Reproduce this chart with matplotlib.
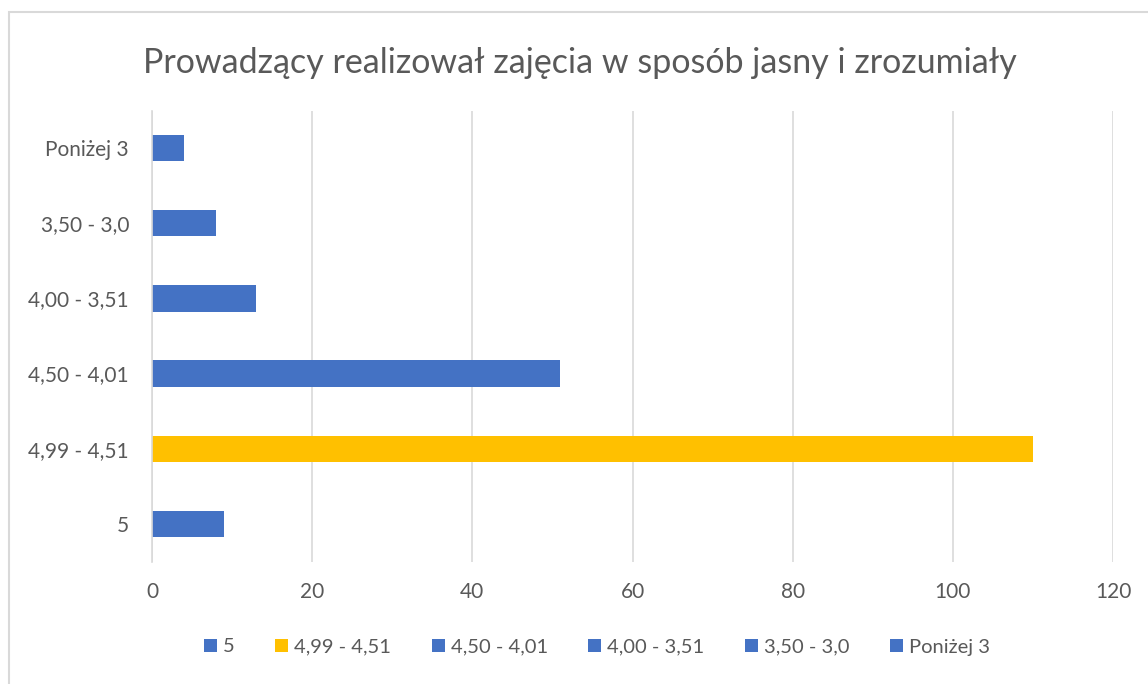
import matplotlib.pyplot as plt
from matplotlib.patches import Patch, Rectangle

plt.rcParams["font.family"] = ["Lato", "DejaVu Sans"]

categories = ["5", "4,99 - 4,51", "4,50 - 4,01", "4,00 - 3,51", "3,50 - 3,0", "Poniżej 3"]
counts = [9, 110, 51, 13, 8, 4]
colors = ["#4472C4", "#FFC000", "#4472C4", "#4472C4", "#4472C4", "#4472C4"]
x_ticks = [0, 20, 40, 60, 80, 100, 120]

text_color = "#595959"
grid_color = "#D9D9D9"

fig = plt.figure(figsize=(11.48, 6.84), dpi=100)
fig.patches.append(Rectangle((9 / 1148, -0.1), 1.2, 1 - 12 / 684 + 0.1,
                             transform=fig.transFigure, fill=False,
                             edgecolor=grid_color, linewidth=1.5))

ax = fig.add_axes([152 / 1148, 1 - 561.5 / 684, (1113 - 152) / 1148, 451 / 684])
ypos = list(range(len(categories)))
ax.barh(ypos, counts, height=0.35, color=colors, zorder=3)

ax.set_xlim(0, 120)
ax.set_ylim(-0.5, len(categories) - 0.5)
ax.set_xticks(x_ticks)
ax.set_yticks(ypos)
ax.set_yticklabels(categories)
ax.tick_params(axis="both", length=0, labelsize=15, labelcolor=text_color)
ax.tick_params(axis="x", pad=15)
ax.tick_params(axis="y", pad=16.5)
ax.grid(axis="x", color=grid_color, linewidth=1.2, zorder=0)
for side in ["top", "right", "bottom"]:
    ax.spines[side].set_visible(False)
ax.spines["left"].set_color(grid_color)
ax.spines["left"].set_linewidth(1.2)
ax.spines["left"].set_zorder(4)

fig.text(0.505, 1 - 63 / 684, "Prowadzący realizował zajęcia w sposób jasny i zrozumiały",
         ha="center", va="center", fontsize=24.5, color=text_color)

handles = [Patch(facecolor=c, edgecolor="none") for c in colors]
fig.legend(handles, categories, loc="center", bbox_to_anchor=(0.52, 1 - 647 / 684),
           ncol=len(categories), frameon=False, fontsize=14.5, labelcolor=text_color,
           handlelength=0.65, handleheight=0.65, handletextpad=0.3, columnspacing=2.0)

fig.savefig("out.png", dpi=100, facecolor="white")
